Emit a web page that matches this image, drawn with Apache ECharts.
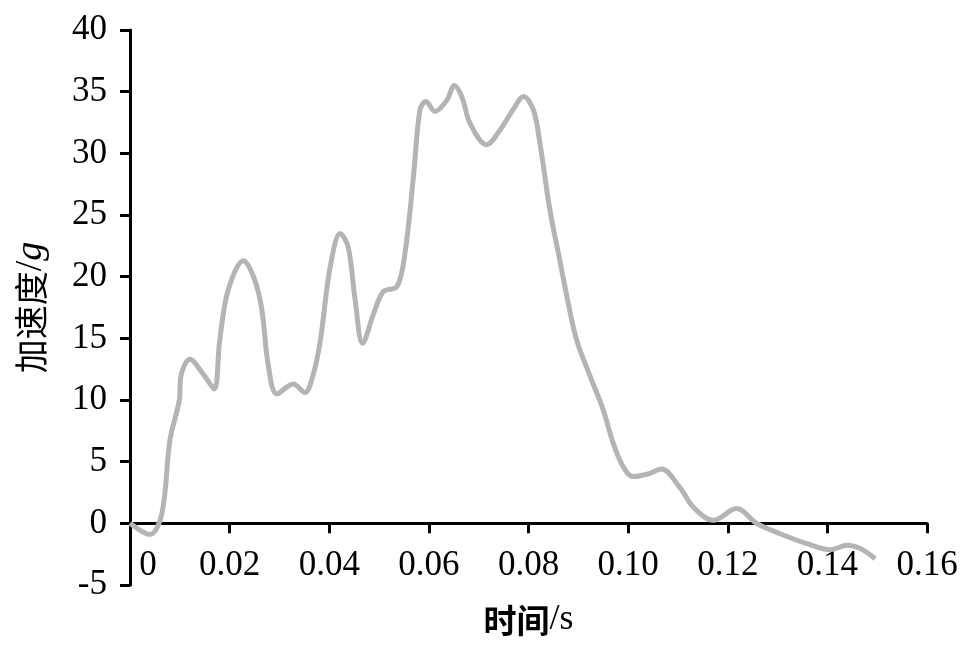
<!DOCTYPE html>
<html>
<head>
<meta charset="utf-8">
<script src="https://cdn.jsdelivr.net/npm/echarts@6/dist/echarts.min.js"></script>
<style>html,body{margin:0;padding:0;background:#fff;}#c{width:971px;height:657px;}</style>
</head>
<body>
<div id="c"></div>
<script>
var timeValues = [0, 0.004, 0.0064, 0.008, 0.0099, 0.0102, 0.012, 0.0147, 0.0169, 0.018, 0.0197, 0.0228, 0.0248, 0.0264, 0.0278, 0.0295, 0.0328, 0.0351, 0.0368, 0.0382, 0.0402, 0.0422, 0.0438, 0.0452, 0.0467, 0.0489, 0.0509, 0.0536, 0.0552, 0.0569, 0.0582, 0.0594, 0.0612, 0.0636, 0.0651, 0.0666, 0.0683, 0.0716, 0.0743, 0.0770, 0.0790, 0.0810, 0.0823, 0.0843, 0.0863, 0.0880, 0.0897, 0.0924, 0.0950, 0.0970, 0.0990, 0.1010, 0.1040, 0.1067, 0.1104, 0.1131, 0.1171, 0.1218, 0.1258, 0.1305, 0.1359, 0.1406, 0.1440, 0.1466, 0.1496];
var accelValues = [0, -0.9, 0.8, 6.7, 10.0, 11.9, 13.3, 12.1, 10.9, 14.8, 18.9, 21.3, 20.0, 17.5, 12.7, 10.5, 11.3, 10.6, 12.1, 14.8, 20.8, 23.5, 22.4, 18.1, 14.6, 17.0, 18.8, 19.2, 21.9, 28.1, 33.5, 34.2, 33.4, 34.3, 35.5, 34.6, 32.4, 30.7, 31.9, 33.6, 34.6, 33.5, 30.8, 25.4, 21.3, 17.8, 14.8, 11.9, 9.2, 6.5, 4.6, 3.8, 4.0, 4.4, 2.9, 1.3, 0.24, 1.2, 0.0, -0.84, -1.65, -2.14, -1.78, -2.05, -2.87];
var xTickLabels = ['0', '0.02', '0.04', '0.06', '0.08', '0.10', '0.12', '0.14', '0.16'];
var yTickLabels = ['-5', '0', '5', '10', '15', '20', '25', '30', '35', '40'];

var serif = 'Liberation Serif';
var cjk = 'Noto Sans CJK SC';
var chart = echarts.init(document.getElementById('c'), null, {renderer: 'canvas'});
var data = timeValues.map(function (t, i) { return [t, accelValues[i]]; });

chart.setOption({
  animation: false,
  backgroundColor: '#ffffff',
  grid: {left: 130, right: 44, top: 30, bottom: 72, containLabel: false, outerBoundsMode: 'none'},
  xAxis: {
    type: 'value', min: 0, max: 0.16, interval: 0.02,
    axisLine: {onZero: true, lineStyle: {color: '#000', width: 3}},
    axisTick: {show: true, length: 10, inside: false, lineStyle: {color: '#000', width: 3}},
    splitLine: {show: false},
    axisLabel: {
      margin: -37, color: '#000', fontFamily: serif, fontSize: 35,
      formatter: function (v) {
        var idx = Math.round(v / 0.02);
        var s = xTickLabels[idx];
        return idx === 0 ? '{z|' + s + '}' : s;
      },
      rich: {z: {fontFamily: serif, fontSize: 35, color: '#000', padding: [0, 0, 0, 36]}}
    },
    name: '{c|时间}{e|/s}',
    nameLocation: 'middle', nameGap: 17,
    nameTextStyle: {
      rich: {
        c: {fontFamily: cjk, fontSize: 33, fontWeight: 'bold', color: '#000'},
        e: {fontFamily: serif, fontSize: 36, color: '#000'}
      }
    }
  },
  yAxis: {
    type: 'value', min: -5, max: 40, interval: 5,
    axisLine: {show: true, lineStyle: {color: '#000', width: 3}},
    axisTick: {show: true, length: 10, lineStyle: {color: '#000', width: 3}},
    splitLine: {show: false},
    axisLabel: {
      margin: 23, color: '#000', fontFamily: serif, fontSize: 35,
      formatter: function (v) { return yTickLabels[Math.round((v + 5) / 5)]; }
    },
    name: '{c|加速度}{e|/}{i|g}',
    nameLocation: 'middle', nameGap: 80, nameRotate: 90,
    nameTextStyle: {
      rich: {
        c: {fontFamily: cjk, fontSize: 34, color: '#000'},
        e: {fontFamily: serif, fontSize: 38, color: '#000'},
        i: {fontFamily: serif, fontSize: 38, fontStyle: 'italic', color: '#000'}
      }
    }
  },
  series: [{
    type: 'line', data: data, smooth: 0.35, showSymbol: false,
    lineStyle: {color: '#b4b4b4', width: 5}
  }]
});
</script>
</body>
</html>
